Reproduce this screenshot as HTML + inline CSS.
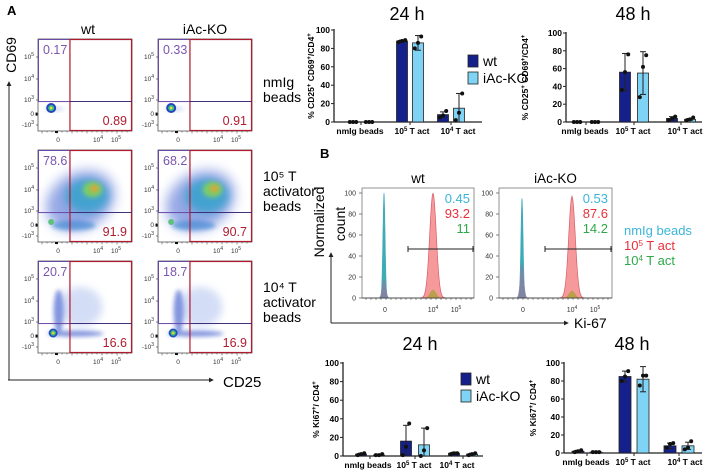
<!DOCTYPE html>
<html><head><meta charset="utf-8">
<style>
html,body{margin:0;padding:0;background:#fff;}
svg{display:block;font-family:"Liberation Sans",Arial,sans-serif;}
</style></head>
<body>
<svg id="fig" width="706" height="475" viewBox="0 0 706 475" xmlns="http://www.w3.org/2000/svg">
<defs>
<filter id="bl2" x="-50%" y="-50%" width="200%" height="200%"><feGaussianBlur stdDeviation="2"/></filter>
<filter id="bl4" x="-50%" y="-50%" width="200%" height="200%"><feGaussianBlur stdDeviation="4"/></filter>
<filter id="bl6" x="-50%" y="-50%" width="200%" height="200%"><feGaussianBlur stdDeviation="6"/></filter>
<marker id="arr" viewBox="0 0 6 6" refX="5" refY="3" markerWidth="5" markerHeight="5" orient="auto"><path d="M0,0L6,3L0,6z" fill="#222"/></marker>
</defs>
<text x="7" y="15" font-size="13" font-weight="bold">A</text>
<text x="320" y="158" font-size="13" font-weight="bold">B</text>
<g id="flow"></g>
<g id="hist"></g>
<g id="c1"></g>
<g id="c2"></g>
<g id="c3"></g>
<g id="c4"></g>
</svg>
<script>
// ---------- data ----------
const categories = ["nmIg beads", "10^5 T act", "10^4 T act"];
const cd69_24h_wt = [0, 88, 8];
const cd69_24h_ko = [0, 86, 15];
const cd69_24h_wtErr = [0, 1, 3];
const cd69_24h_koErr = [0, 8, 16];
const cd69_24h_wtPts = [[0,0,0],[87,88,89],[5,7,12]];
const cd69_24h_koPts = [[0,0,0],[80,86,93],[2,10,31]];
const cd69_48h_wt = [0, 56, 4];
const cd69_48h_ko = [0, 55, 3];
const cd69_48h_wtErr = [0, 21, 2];
const cd69_48h_koErr = [0, 24, 1];
const cd69_48h_wtPts = [[0,0,0],[36,56,76],[2,4,6]];
const cd69_48h_koPts = [[0,0,0],[28,62,75],[2,3,5]];
const ki_24h_wt = [2, 16, 3];
const ki_24h_ko = [1, 12, 2];
const ki_24h_wtErr = [1, 17, 1];
const ki_24h_koErr = [0.5, 18, 1];
const ki_24h_wtPts = [[1,2,3],[1,10,35],[2,3,3]];
const ki_24h_koPts = [[1,1,2],[0,6,30],[1,2,3]];
const ki_48h_wt = [2, 85, 8];
const ki_48h_ko = [1, 82, 8];
const ki_48h_wtErr = [1, 6, 3];
const ki_48h_koErr = [0.5, 14, 4];
const ki_48h_wtPts = [[1,2,3],[80,85,91],[6,10,11]];
const ki_48h_koPts = [[1,1,1],[75,86,86],[4,6,13]];
const yTicks = [0, 20, 40, 60, 80, 100];
const histTicks = [0, 20, 40, 60, 80, 100];
const histWtNmig = 100, histWtAct5 = 100, histWtAct4Low = 18, histWtAct4High = 8;
const histKoNmig = 95, histKoAct5 = 97, histKoAct4Low = 33, histKoAct4High = 7;
const histWtValues = ["0.45", "93.2", "11"];
const histKoValues = ["0.53", "87.6", "14.2"];
const flowUpperLeft = [["0.17","0.33"],["78.6","68.2"],["20.7","18.7"]];
const flowLowerRight = [["0.89","0.91"],["91.9","90.7"],["16.6","16.9"]];

const NS = "http://www.w3.org/2000/svg";
function mk(tag, attrs, parent, txt){
  const e = document.createElementNS(NS, tag);
  for (const k in attrs) e.setAttribute(k, attrs[k]);
  if (txt !== undefined) e.textContent = txt;
  if (parent) parent.appendChild(e);
  return e;
}
const DARK = "#15208a", LIGHT = "#7fd3f5", PURP = "#6a4aa8", RED = "#b01c2e";

// ---------- flow panels ----------
const flow = document.getElementById("flow");
(function(){
  let t;
  t = mk("text",{x:88,y:34,"font-size":14,"text-anchor":"middle"},flow,"wt");
   
  t = mk("text",{x:205,y:34,"font-size":14,"text-anchor":"middle"},flow,"iAc-KO");
   
  t = mk("text",{x:0,y:0,"font-size":14,"text-anchor":"middle",transform:"translate(16,55) rotate(-90)"},flow,"CD69");
   
  t = mk("text",{x:223,y:387,"font-size":15},flow,"CD25");
   
  let l = mk("path",{d:"M9,380 L9,82",stroke:"#222","stroke-width":1,fill:"none","marker-end":"url(#arr)"},flow);
   
  l = mk("path",{d:"M8,380 L213,380",stroke:"#222","stroke-width":1,fill:"none","marker-end":"url(#arr)"},flow);
   
  const rowLabels = [["nmIg","beads"],["10\u2075 T","activator","beads"],["10\u2074 T","activator","beads"]];
  const rowY = [39,150,261], colX = [38,158], W = 94, H = 92;
  for (let r=0;r<3;r++){
    const lab = mk("text",{"font-size":14},flow);
     
    rowLabels[r].forEach((s,i)=>mk("tspan",{x:263,y:rowY[r]+(r===0?48:31)+i*15},lab,s));
    for (let c=0;c<2;c++){
      const x=colX[c], y=rowY[r];
      const g = mk("g",{},flow);
       
      mk("rect",{x:x,y:y,width:W,height:H,fill:"#fff",stroke:"#555","stroke-width":0.8},g);
      const cx = x + W*0.14, gy = y + H*0.75;
      if (r===0){
        mk("ellipse",{cx:cx+3,cy:gy+1,rx:10,ry:2,fill:"#9ab0e8",opacity:0.5,filter:"url(#bl2)"},g);
        mk("ellipse",{cx:cx,cy:gy,rx:5,ry:5,fill:"#2545c0"},g);
        mk("ellipse",{cx:cx,cy:gy,rx:3,ry:3,fill:"#40c080"},g);
        mk("ellipse",{cx:cx,cy:gy,rx:1.3,ry:1.3,fill:"#e0e040"},g);
      } else if (r===1){
        mk("ellipse",{cx:x+W*0.45,cy:y+H*0.55,rx:36,ry:28,fill:"#4060d0",opacity:0.55,filter:"url(#bl6)",transform:`rotate(-30 ${x+W*0.45} ${y+H*0.55})`},g);
        mk("ellipse",{cx:x+W*0.52,cy:y+H*0.5,rx:22,ry:17,fill:"#20a0c8",opacity:0.7,filter:"url(#bl4)"},g);
        mk("ellipse",{cx:x+W*0.58,cy:y+H*0.43,rx:10,ry:8,fill:"#80d060",opacity:0.9,filter:"url(#bl2)"},g);
        mk("ellipse",{cx:x+W*0.6,cy:y+H*0.42,rx:4,ry:3.5,fill:"#e8a030",filter:"url(#bl2)"},g);
        mk("ellipse",{cx:x+W*0.38,cy:y+H*0.82,rx:22,ry:5,fill:"#3080d0",opacity:0.6,filter:"url(#bl2)"},g);
        mk("ellipse",{cx:cx,cy:gy+3,rx:3,ry:3,fill:"#60c080"},g);
      } else {
        mk("ellipse",{cx:x+W*0.22,cy:y+H*0.55,rx:5,ry:22,fill:"#3050c8",opacity:0.6,filter:"url(#bl2)"},g);
        mk("ellipse",{cx:x+W*0.45,cy:y+H*0.5,rx:22,ry:20,fill:"#7090e0",opacity:0.3,filter:"url(#bl4)"},g);
        mk("ellipse",{cx:x+W*0.4,cy:y+H*0.79,rx:28,ry:3,fill:"#3050c8",opacity:0.6,filter:"url(#bl2)"},g);
        mk("ellipse",{cx:cx+2,cy:gy+3,rx:4.5,ry:4.5,fill:"#2050c0"},g);
        mk("ellipse",{cx:cx+2,cy:gy+3,rx:2.7,ry:2.7,fill:"#50c070"},g);
        mk("ellipse",{cx:cx+2,cy:gy+3,rx:1.2,ry:1.2,fill:"#e0d040"},g);
      }
      const gx = x + W*0.34, hy = y + H*0.68;
      mk("rect",{x:x+0.5,y:y+0.5,width:gx-x-0.5,height:hy-y-0.5,fill:"none",stroke:PURP,"stroke-width":1},g);
      mk("rect",{x:gx,y:y+0.5,width:x+W-gx-0.5,height:H-1,fill:"none",stroke:RED,"stroke-width":1.2},g);
      mk("line",{x1:gx,y1:hy,x2:x+W,y2:hy,stroke:"#40307a","stroke-width":1},g);
      let n = mk("text",{x:x+5,y:y+15,"font-size":12.5,fill:"#7a55b0"},g,flowUpperLeft[r][c]);
       
      n = mk("text",{x:x+W-5,y:y+H-6,"font-size":12.5,fill:RED,"text-anchor":"end"},g,flowLowerRight[r][c]);
       
      const yl = [["10","5",18],["10","4",40],["10","3",61],["0","",75],["-10","3",86]];
      yl.forEach(a=>{
        const tt = mk("text",{x:x-4,y:y+a[2]+2,"font-size":6.5,"text-anchor":"end",fill:"#333"},g,a[0]);
        if (a[1]) mk("tspan",{dy:-3,"font-size":5},tt,a[1]);
        mk("line",{x1:x-2,y1:y+a[2],x2:x,y2:y+a[2],stroke:"#333","stroke-width":0.6},g);
      });
      const xl = [["0","",20],["10","4",60],["10","5",78]];
      xl.forEach(a=>{
        const tt = mk("text",{x:x+a[2],y:y+H+11,"font-size":6.5,"text-anchor":"middle",fill:"#333"},g,a[0]);
        if (a[1]) mk("tspan",{dy:-3,"font-size":5},tt,a[1]);
      });
      for (let k=4;k<W;k+=5) mk("line",{x1:x+k,y1:y+H,x2:x+k,y2:y+H+(k%15===4?2.5:1.5),stroke:"#333","stroke-width":0.5},g);
      mk("rect",{x:x+17,y:y+H,width:3,height:2,fill:"#111"},g);
      mk("rect",{x:x-2.5,y:y+H*0.8,width:2,height:3,fill:"#111"},g);
    }
  }
})();

// ---------- histograms ----------
const hist = document.getElementById("hist");
(function(){
  let t = mk("text",{x:0,y:0,"font-size":14,"text-anchor":"middle",transform:"translate(324,222) rotate(-90)"},hist,"Normalized");
   
  t = mk("text",{x:0,y:0,"font-size":14,"text-anchor":"middle",transform:"translate(345,224) rotate(-90)"},hist,"count");
   
  t = mk("text",{x:574,y:328,"font-size":14},hist,"Ki-67");
   
  let l = mk("path",{d:"M331,323 L331,253",stroke:"#222","stroke-width":1,fill:"none","marker-end":"url(#arr)"},hist);
   
  l = mk("path",{d:"M331,323 L568,323",stroke:"#222","stroke-width":1,fill:"none","marker-end":"url(#arr)"},hist);
   
  const leg = [["nmIg beads","#3bb5d8",""],["10","#e8303a","5 T act"],["10","#2fa84a","4 T act"]];
  leg.forEach((a,i)=>{
    const tt = mk("text",{x:624,y:235+i*15,"font-size":13,fill:a[1]},hist,a[0]);
     
    if (a[2]){ mk("tspan",{dy:-4,"font-size":8},tt,a[2][0]); mk("tspan",{dy:4},tt,a[2].slice(1)); }
  });
  const panels = [
    {x0:362,x1:474,title:"wt",px:[384,433],vals:histWtValues,h:[histWtNmig,histWtAct5,histWtAct4Low,histWtAct4High],gate:[408,474]},
    {x0:499,x1:612,title:"iAc-KO",px:[522,572],vals:histKoValues,h:[histKoNmig,histKoAct5,histKoAct4Low,histKoAct4High],gate:[545,612]}
  ];
  const y0 = 298, y100 = 193;
  const ys = v => y0 - (v/100)*(y0-y100);
  function peak(cx, h, w){
    let d = `M${cx-4*w},${y0}`;
    for (let k=-4;k<=4;k+=0.25){ d += ` L${cx+k*w},${ys(h*Math.exp(-k*k/2))}`; }
    return d + ` L${cx+4*w},${y0}Z`;
  }
  panels.forEach((p,i)=>{
    const g = mk("g",{},hist);
     
    mk("text",{x:(p.x0+p.x1)/2,y:183,"font-size":13.5,"text-anchor":"middle"},g,p.title);
    mk("rect",{x:p.x0,y:y100-5,width:p.x1-p.x0,height:y0-y100+5,fill:"#fff",stroke:"#666","stroke-width":0.7},g);
    let e = mk("path",{d:peak(p.px[1],p.h[1],3.3),fill:"#f5888a",stroke:"#d04050","stroke-width":0.7,opacity:0.85},g);
     
    e = mk("path",{d:peak(p.px[0],p.h[0],1.1),fill:"#2aa5a8",stroke:"#2aa0c0","stroke-width":0.6,opacity:0.9},g);
     
    e = mk("path",{d:peak(p.px[0],p.h[2],1.8),fill:"#8a7fa0",opacity:0.85},g);
     
    e = mk("path",{d:peak(p.px[1],p.h[3],3),fill:"#b0a040",opacity:0.85},g);
     
    mk("line",{x1:p.x0,y1:y0,x2:p.x1,y2:y0,stroke:"#333","stroke-width":0.8},g);
    mk("line",{x1:p.gate[0],y1:249,x2:p.gate[1],y2:249,stroke:"#222","stroke-width":1},g);
    mk("line",{x1:p.gate[0],y1:246,x2:p.gate[0],y2:252,stroke:"#222","stroke-width":1},g);
    mk("line",{x1:p.gate[1]-1,y1:246,x2:p.gate[1]-1,y2:252,stroke:"#222","stroke-width":1},g);
    const cols = ["#3bb5d8","#e8303a","#2fa84a"];
    p.vals.forEach((v,k)=>{
      const tt = mk("text",{x:p.x1-4,y:203+k*15,"font-size":13,"text-anchor":"end",fill:cols[k]},g,v);
       
    });
    histTicks.forEach(v=>{
      mk("text",{x:p.x0-6,y:ys(v)+2.5,"font-size":7,"text-anchor":"end",fill:"#333"},g,String(v));
      mk("line",{x1:p.x0-3,y1:ys(v),x2:p.x0,y2:ys(v),stroke:"#333","stroke-width":0.6},g);
    });
    const xl=[["0","",p.px[0]+1],["10","4",p.px[1]],["10","5",p.px[1]+23]];
    xl.forEach(a=>{
      const tt = mk("text",{x:a[2],y:312,"font-size":7,"text-anchor":"middle",fill:"#333"},g,a[0]);
      if (a[1]) mk("tspan",{dy:-3,"font-size":5},tt,a[1]);
    });
    for (let k=p.x0+4;k<p.x1;k+=5) mk("line",{x1:k,y1:y0,x2:k,y2:y0+2,stroke:"#333","stroke-width":0.5},g);
  });
})();

// ---------- bar charts ----------
function barChart(gid, cfg, wt, ko, wtErr, koErr, wtPts, koPts){
  const g = document.getElementById(gid);
  const ys = v => cfg.y0 - (v/100)*(cfg.y0-cfg.y100);
  const bw = cfg.bw;
  let t = mk("text",{x:cfg.titleX,y:cfg.titleY,"font-size":18,"text-anchor":"middle"},g,cfg.title);
   
  const yl = mk("text",{x:0,y:0,"font-size":8.5,"font-weight":"bold","text-anchor":"middle",transform:`translate(${cfg.ylx},${(cfg.y0+cfg.y100)/2}) rotate(-90)`},g);
   
  cfg.ylabel.forEach(s=>{ if (s[1]) mk("tspan",{dy:-3,"font-size":6},yl,s[0]); else mk("tspan",{dy:s[2]||0},yl,s[0]); });
  mk("line",{x1:cfg.ax,y1:cfg.y100-1,x2:cfg.ax,y2:cfg.y0,stroke:"#222","stroke-width":1.3},g);
  mk("line",{x1:cfg.ax,y1:cfg.y0,x2:cfg.axEnd,y2:cfg.y0,stroke:"#222","stroke-width":1.3},g);
  yTicks.forEach(v=>{
    mk("line",{x1:cfg.ax-3,y1:ys(v),x2:cfg.ax,y2:ys(v),stroke:"#222","stroke-width":1},g);
    const tt = mk("text",{x:cfg.ax-4,y:ys(v)+3,"font-size":8.5,"font-weight":"bold","text-anchor":"end"},g,String(v));
     
  });
  categories.forEach((c,i)=>{
    const cx = cfg.cx[i];
    const parts = c.split("^");
    const lab = mk("text",{x:cfg.lx[i],y:cfg.y0+12,"font-size":8.5,"font-weight":"bold","text-anchor":"middle"},g);
     
    if (parts.length>1){ mk("tspan",{},lab,parts[0]); const s=parts[1].split(" "); mk("tspan",{dy:-3,"font-size":6},lab,s[0]); mk("tspan",{dy:3},lab," "+s.slice(1).join(" ")); }
    else mk("tspan",{},lab,c);
    mk("line",{x1:cx,y1:cfg.y0,x2:cx,y2:cfg.y0+3,stroke:"#222","stroke-width":1},g);
    [[wt,wtErr,wtPts,DARK,-1,"wt"],[ko,koErr,koPts,LIGHT,1,"ko"]].forEach(s=>{
      const bx = cx + s[4]*cfg.off - bw/2;
      const v = s[0][i];
      const r = mk("rect",{x:bx,y:ys(v),width:bw,height:Math.max(0,cfg.y0-ys(v)),fill:s[3],stroke:"#222","stroke-width":0.8},g);
       
      const ex = bx + bw/2, e = s[1][i];
      if (e>0){
        mk("line",{x1:ex,y1:ys(v+e),x2:ex,y2:ys(Math.max(0,v-e)),stroke:"#222","stroke-width":1},g);
        mk("line",{x1:ex-3,y1:ys(v+e),x2:ex+3,y2:ys(v+e),stroke:"#222","stroke-width":1},g);
        mk("line",{x1:ex-3,y1:ys(Math.max(0,v-e)),x2:ex+3,y2:ys(Math.max(0,v-e)),stroke:"#222","stroke-width":1},g);
      }
      s[2][i].forEach((p,k)=>{
        const d = mk("circle",{cx:ex+(k-1)*3.2,cy:ys(p),r:2,fill:"#111"},g);
         
      });
    });
  });
  if (cfg.legend){
    [["wt",DARK],["iAc-KO",LIGHT]].forEach((a,k)=>{
      const r = mk("rect",{x:cfg.legend[0],y:cfg.legend[1]+k*17,width:10,height:12,fill:a[1],stroke:"#222","stroke-width":0.8},g);
       
      const tt = mk("text",{x:cfg.legend[0]+15,y:cfg.legend[1]+k*17+11,"font-size":14},g,a[0]);
       
    });
  }
}
const lab1 = [["% CD25"],["+",1],[" CD69",0,3],["+",1],["/CD4",0,3],["+",1]];
const lab2 = [["% Ki67"],["+",1],["/ CD4",0,3],["+",1]];
barChart("c1",{title:"24 h",titleX:407,titleY:20,ax:334,axEnd:482,y0:122,y100:30,bw:11,off:8,cx:[361,410,451],lx:[360,412,458],ylx:314,ylabel:lab1,legend:[468,55]},
  cd69_24h_wt,cd69_24h_ko,cd69_24h_wtErr,cd69_24h_koErr,cd69_24h_wtPts,cd69_24h_koPts);
barChart("c2",{title:"48 h",titleX:633,titleY:20,ax:566,axEnd:702,y0:122,y100:33,bw:11,off:9,cx:[586,634,681],lx:[585,633,685],ylx:528,ylabel:lab1},
  cd69_48h_wt,cd69_48h_ko,cd69_48h_wtErr,cd69_48h_koErr,cd69_48h_wtPts,cd69_48h_koPts);
barChart("c3",{title:"24 h",titleX:420,titleY:350,ax:343,axEnd:483,y0:456,y100:363,bw:11,off:9,cx:[370,415,463],lx:[368,414,457],ylx:319,ylabel:lab2,legend:[461,373]},
  ki_24h_wt,ki_24h_ko,ki_24h_wtErr,ki_24h_koErr,ki_24h_wtPts,ki_24h_koPts);
barChart("c4",{title:"48 h",titleX:632,titleY:350,ax:564,axEnd:702,y0:453,y100:363,bw:12,off:9,cx:[587,634,679],lx:[586,633,685],ylx:536,ylabel:lab2},
  ki_48h_wt,ki_48h_ko,ki_48h_wtErr,ki_48h_koErr,ki_48h_wtPts,ki_48h_koPts);
</script>
</body></html>
